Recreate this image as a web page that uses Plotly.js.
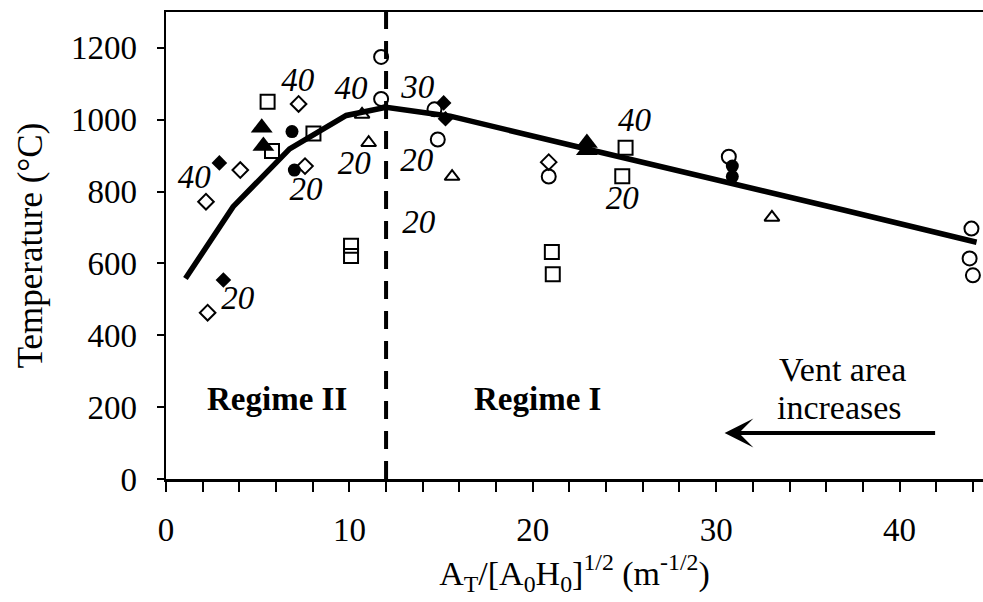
<!DOCTYPE html>
<html>
<head>
<meta charset="utf-8">
<script src="https://cdn.plot.ly/plotly-3.0.1.min.js"></script>
<style>html,body{margin:0;padding:0;background:#fff;}#chart{width:983px;height:602px;}</style>
</head>
<body>
<div id="chart"></div>
<script>
// Model curve
const curveX = [1.06, 3.66, 6.74, 9.83, 12.0, 15.5, 23.0, 31.0, 37.0, 44.2];
const curveY = [558, 758, 919, 1012, 1035, 1010, 918, 822, 748, 659];

// Experimental data series
const openCircleX = [11.73, 11.73, 14.64, 14.82, 20.87, 30.69, 43.92, 43.82, 44.0];
const openCircleY = [1175, 1058, 1029, 945, 842, 897, 697, 614, 567];

const filledCircleX = [6.87, 7.0, 30.88, 30.88];
const filledCircleY = [967, 860, 871, 842];

const openSquareX = [5.54, 5.78, 8.04, 10.09, 10.09, 21.04, 21.09, 25.06, 24.88];
const openSquareY = [1050, 913, 962, 649, 621, 632, 570, 922, 843];

const openDiamondX = [7.23, 7.58, 4.05, 2.18, 2.27, 20.87];
const openDiamondY = [1044, 871, 860, 772, 463, 882];

const filledDiamondX = [2.91, 3.13, 15.14, 15.24];
const filledDiamondY = [880, 554, 1047, 1003];

const openTriangleX = [10.69, 11.05, 15.6, 33.04];
const openTriangleY = [1015, 936, 842, 728];

const filledTriangleX = [5.22, 5.31, 22.95, 22.95];
const filledTriangleY = [978, 927, 935, 915];

// Italic labels
const labelX = [7.18, 10.09, 1.54, 7.64, 10.27, 3.91, 13.73, 13.67, 13.78, 25.55, 24.88];
const labelY = [1103, 1080, 834, 801, 871, 496, 1084, 880, 709, 992, 774];
const labelText = ['40', '40', '40', '20', '20', '20', '30', '20', '20', '40', '20'];

// Regime boundary
const boundaryX = 12;

const FONT = '"Liberation Serif", "Times New Roman", Times, serif';
const BLACK = '#000';

function pts(x, y, symbol, size, filled) {
  return {
    x: x, y: y, type: 'scatter', mode: 'markers', showlegend: false, hoverinfo: 'skip',
    marker: {
      symbol: symbol, size: size, color: BLACK,
      line: {color: BLACK, width: filled ? 0 : 2}
    }
  };
}

const traces = [
  {x: curveX, y: curveY, type: 'scatter', mode: 'lines', showlegend: false, hoverinfo: 'skip',
   line: {color: BLACK, width: 5.5}},
  pts(openSquareX, openSquareY, 'square-open', 14, false),
  pts(openDiamondX, openDiamondY, 'diamond-open', 12, false),
  pts(openCircleX, openCircleY, 'circle-open', 14, false),
  pts(openTriangleX, openTriangleY, 'triangle-up-open', 13, false),
  pts(filledCircleX, filledCircleY, 'circle', 13, true),
  pts(filledDiamondX, filledDiamondY, 'diamond', 12, true),
  pts(filledTriangleX, filledTriangleY, 'triangle-up', 19, true),
  {x: labelX, y: labelY, text: labelText, type: 'scatter', mode: 'text', showlegend: false,
   hoverinfo: 'skip', textposition: 'middle center',
   textfont: {family: FONT, size: 33, color: BLACK, style: 'italic'}}
];

const layout = {
  width: 983, height: 602,
  margin: {l: 166, r: 0, t: 12, b: 123},
  paper_bgcolor: '#fff', plot_bgcolor: '#fff',
  font: {family: FONT, color: BLACK, size: 33},
  showlegend: false,
  xaxis: {
    range: [0, 44.55], dtick: 10, tick0: 0,
    showgrid: false, zeroline: false,
    showline: true, linecolor: BLACK, linewidth: 2.5, mirror: true,
    ticks: 'outside', ticklen: 10, tickwidth: 2, tickcolor: BLACK,
    minor: {dtick: 2, ticks: 'outside', ticklen: 10, tickwidth: 2, tickcolor: BLACK, showgrid: false},
    tickfont: {family: FONT, size: 33, color: BLACK},
    ticklabelstandoff: 10,
    title: {text: 'A<sub>T</sub>/[A<sub>0</sub>H<sub>0</sub>]<sup>1/2</sup> (m<sup>-1/2</sup>)',
            font: {family: FONT, size: 34, color: BLACK}, standoff: 14}
  },
  yaxis: {
    range: [0, 1300], dtick: 200, tick0: 0,
    showgrid: false, zeroline: false,
    showline: true, linecolor: BLACK, linewidth: 2.5,
    ticks: 'outside', ticklen: 7, tickwidth: 2, tickcolor: BLACK,
    tickfont: {family: FONT, size: 33, color: BLACK},
    ticklabelstandoff: 13,
    title: {text: 'Temperature (°C)', font: {family: FONT, size: 35, color: BLACK}, standoff: 18}
  },
  shapes: [
    {type: 'line', xref: 'x', yref: 'paper', x0: boundaryX, x1: boundaryX, y0: 0, y1: 1,
     line: {color: BLACK, width: 4, dash: '18px,12px'}}
  ],
  annotations: [
    {x: 6.04, y: 222, xref: 'x', yref: 'y', text: '<b>Regime II</b>', showarrow: false,
     font: {family: FONT, size: 33, color: BLACK}},
    {x: 20.26, y: 222, xref: 'x', yref: 'y', text: '<b>Regime I</b>', showarrow: false,
     font: {family: FONT, size: 33, color: BLACK}},
    {x: 36.9, y: 306, xref: 'x', yref: 'y', text: 'Vent area', showarrow: false,
     font: {family: FONT, size: 34, color: BLACK}},
    {x: 36.75, y: 200, xref: 'x', yref: 'y', text: 'increases', showarrow: false,
     font: {family: FONT, size: 34, color: BLACK}},
    {x: 30.46, y: 128, ax: 42.02, ay: 128, xref: 'x', yref: 'y', axref: 'x', ayref: 'y',
     text: '', showarrow: true, arrowhead: 3, arrowsize: 1.2, arrowwidth: 4, arrowcolor: BLACK}
  ]
};

Plotly.newPlot('chart', traces, layout, {displayModeBar: false, staticPlot: true});
</script>
</body>
</html>
